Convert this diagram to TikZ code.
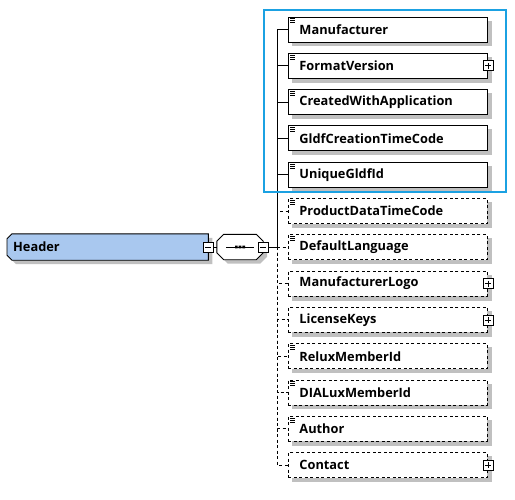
\documentclass[tikz,border=0pt]{standalone}
\usepackage{fontspec}
\setmainfont{Open Sans}
\usetikzlibrary{positioning,backgrounds}
\definecolor{hdrblue}{HTML}{A9C8EF}
\definecolor{frameblue}{HTML}{1BA1E2}
\definecolor{shade}{HTML}{C0C0C0}
\tikzset{
  base/.style={font=\fontsize{12.8}{14}\selectfont\bfseries,draw=black,line width=0.9pt,fill=white},
  elem/.style={base,rectangle,anchor=west,minimum width=199pt,minimum height=25pt,text width=177pt,inner xsep=11pt,inner ysep=0pt,align=left},
  optelem/.style={elem,dash pattern=on 3pt off 2.5pt},
  typed/.style={path picture={
    \draw[solid,black,line width=0.7pt] ([shift={(2pt,-1.8pt)}]path picture bounding box.north west) -- ++(5pt,0pt)
      ([shift={(2pt,-3.8pt)}]path picture bounding box.north west) -- ++(5pt,0pt)
      ([shift={(2pt,-5.8pt)}]path picture bounding box.north west) -- ++(5pt,0pt);}},
  header/.style={font=\fontsize{12.8}{14}\selectfont\bfseries,rectangle,anchor=west,minimum width=201pt,minimum height=26pt,text width=189pt,inner xsep=6pt,inner ysep=0pt,align=left},
  seqbox/.style={rectangle,minimum width=46pt,minimum height=25pt,inner sep=0pt},
  outline/.style={draw=black,line width=0.9pt},
  shadow/.style={fill=shade,transform canvas={shift={(4pt,-4pt)}}},
  expander/.style={draw=black,fill=white,line width=0.8pt,minimum size=10pt,inner sep=0pt,solid},
  minus/.style={expander,path picture={
    \draw[black,line width=0.8pt] ([xshift=2pt]path picture bounding box.west) -- ([xshift=-2pt]path picture bounding box.east);}},
  plus/.style={expander,path picture={
    \draw[black,line width=0.8pt] ([xshift=2pt]path picture bounding box.west) -- ([xshift=-2pt]path picture bounding box.east)
      ([yshift=-2pt]path picture bounding box.north) -- ([yshift=2pt]path picture bounding box.south);}},
  link/.style={draw=black,line width=0.9pt},
  optlink/.style={link,dash pattern=on 3pt off 2.5pt}
}
\begin{document}
\begin{tikzpicture}[x=1pt,y=-1pt]
\useasboundingbox (0,0) rectangle (515,499);

\node[header] (hdr) at (7,247) {Header};
\node[minus] (hdrminus) at (hdr.east) {};
\node[seqbox,right=3pt of hdrminus] (seq) {};
\node[minus] (seqminus) at (seq.east) {};
\coordinate (trunk) at (277.5,247);

\begin{pgfonlayer}{background}
  % header with cut corners on the left
  \fill[shadow] ([xshift=5pt]hdr.north west) -- (hdr.north east) -- (hdr.south east)
    -- ([xshift=5pt]hdr.south west) -- ([yshift=5pt]hdr.south west) -- ([yshift=-5pt]hdr.north west) -- cycle;
  \filldraw[outline,fill=hdrblue] ([xshift=5pt]hdr.north west) -- (hdr.north east) -- (hdr.south east)
    -- ([xshift=5pt]hdr.south west) -- ([yshift=5pt]hdr.south west) -- ([yshift=-5pt]hdr.north west) -- cycle;
  % sequence compositor
  \fill[shadow] ([xshift=7pt]seq.north west) -- ([xshift=-7pt]seq.north east) -- ([yshift=-7pt]seq.north east)
    -- ([yshift=7pt]seq.south east) -- ([xshift=-7pt]seq.south east) -- ([xshift=7pt]seq.south west)
    -- ([yshift=7pt]seq.south west) -- ([yshift=-7pt]seq.north west) -- cycle;
  \filldraw[outline,fill=white] ([xshift=7pt]seq.north west) -- ([xshift=-7pt]seq.north east) -- ([yshift=-7pt]seq.north east)
    -- ([yshift=7pt]seq.south east) -- ([xshift=-7pt]seq.south east) -- ([xshift=7pt]seq.south west)
    -- ([yshift=7pt]seq.south west) -- ([yshift=-7pt]seq.north west) -- cycle;
\end{pgfonlayer}
\draw[link] ([xshift=-14pt]seq.center) -- ([xshift=14pt]seq.center);
\fill[black] ([shift={(-5pt,-1.3pt)}]seq.center) rectangle ++(2.6pt,2.6pt)
  ([shift={(-1.3pt,-1.3pt)}]seq.center) rectangle ++(2.6pt,2.6pt)
  ([shift={(2.4pt,-1.3pt)}]seq.center) rectangle ++(2.6pt,2.6pt);

% required children
\node[elem,typed] (manufacturer) at (288,29.5) {Manufacturer};
\node[elem,typed] (formatversion) at (288,65.8) {FormatVersion};
\node[elem,typed] (createdwith) at (288,102.1) {CreatedWithApplication};
\node[elem,typed] (creationtime) at (288,138.4) {GldfCreationTimeCode};
\node[elem,typed] (uniqueid) at (288,174.7) {UniqueGldfId};

% optional children
\node[optelem,typed] (productdata) at (288,211) {ProductDataTimeCode};
\node[optelem,typed] (deflang) at (288,247.3) {DefaultLanguage};
\node[optelem] (mflogo) at (288,283.6) {ManufacturerLogo};
\node[optelem] (licensekeys) at (288,319.9) {LicenseKeys};
\node[optelem,typed] (reluxid) at (288,356.2) {ReluxMemberId};
\node[optelem,typed] (dialuxid) at (288,392.5) {DIALuxMemberId};
\node[optelem,typed] (author) at (288,428.8) {Author};
\node[optelem] (contact) at (288,465.1) {Contact};

\begin{pgfonlayer}{background}
  \foreach \n in {manufacturer,formatversion,createdwith,creationtime,uniqueid,productdata,deflang,mflogo,licensekeys,reluxid,dialuxid,author,contact}
    \fill[shadow] (\n.north west) rectangle (\n.south east);
\end{pgfonlayer}

\node[plus] (formatversionplus) at (formatversion.east) {};
\node[plus] (mflogoplus) at (mflogo.east) {};
\node[plus] (licensekeysplus) at (licensekeys.east) {};
\node[plus] (contactplus) at (contact.east) {};

\draw[link] (hdrminus) -- (seq);
\draw[link] (seqminus) -- (trunk);
\draw[link] (trunk) |- (manufacturer.west);
\draw[link] (trunk) |- (formatversion.west);
\draw[link] (trunk) |- (createdwith.west);
\draw[link] (trunk) |- (creationtime.west);
\draw[link] (trunk) |- (uniqueid.west);
\draw[optlink] (trunk) |- (productdata.west);
\draw[optlink] (trunk) |- (deflang.west);
\draw[optlink] (trunk) |- (mflogo.west);
\draw[optlink] (trunk) |- (licensekeys.west);
\draw[optlink] (trunk) |- (reluxid.west);
\draw[optlink] (trunk) |- (dialuxid.west);
\draw[optlink] (trunk) |- (author.west);
\draw[optlink] (trunk) |- (contact.west);

\draw[frameblue,line width=2.5pt] (264,10) rectangle (506,192);
\end{tikzpicture}
\end{document}
